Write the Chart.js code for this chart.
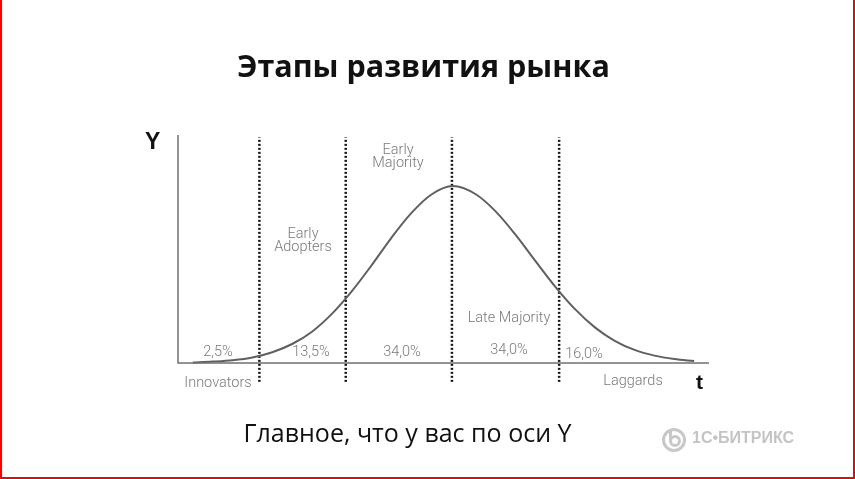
<!DOCTYPE html>
<html>
<head>
<meta charset="utf-8">
<script src="https://cdn.jsdelivr.net/npm/chart.js@4.4.1/dist/chart.umd.min.js"></script>
<style>
    html, body { margin: 0; padding: 0; background: #fff; }
    #slide {
        position: relative;
        width: 855px;
        height: 479px;
        box-sizing: border-box;
        border-left: 2px solid #ff0000;
        border-right: 2px solid #ff0000;
        border-bottom: 2px solid #ff0000;
        overflow: hidden;
        font-family: 'Open Sans', sans-serif;
    }
    #curve { position: absolute; left: -2px; top: 0; }
    .txt { position: absolute; white-space: nowrap; }
    .title { left: 0; width: 843px; top: 44px; text-align: center; font-weight: 700; font-size: 30.5px; color: #111; }
    .caption { left: 0; width: 811px; top: 415px; text-align: center; font-size: 25px; color: #111; }
    .axisName { font-family: 'Liberation Sans', Arial, sans-serif; font-weight: 700; color: #111; }
    .lbl { font-family: Roboto, 'Liberation Sans', sans-serif; font-weight: 300; font-size: 14.5px; color: #7a7a7a; line-height: 13px; text-align: center; transform: translateX(-50%); }
    .logo { left: 660px; top: 428px; height: 24px; color: #c4c4c4; }
    .logo .ring { position: absolute; left: 0; top: 0; width: 18px; height: 18px; border: 3px solid #c8c8c8; border-radius: 50%; }
    .logo .core { position: absolute; left: 7px; top: 7px; width: 6px; height: 6px; border: 3px solid #c8c8c8; border-radius: 50%; }
    .logo .stem { position: absolute; left: 7px; top: 2px; width: 3px; height: 10px; background: #c8c8c8; }
    .logo .word { position: absolute; left: 30px; top: 1px; font-family: 'Liberation Sans', Arial, sans-serif; font-weight: 700; font-size: 16px; }
</style>
</head>
<body>
<div id="slide">
    <canvas id="curve" width="855" height="479"></canvas>

    <div class="txt title">Этапы развития рынка</div>
    <div class="txt caption">Главное, что у вас по оси Y</div>

    <div class="txt axisName" style="left:143px; top:128px; font-size:23px;">Y</div>
    <div class="txt axisName" style="left:694px; top:370px; font-size:21px;">t</div>

    <div class="txt lbl" style="left:396px; top:143px;">Early<br>Majority</div>
    <div class="txt lbl" style="left:301px; top:227px;">Early<br>Adopters</div>
    <div class="txt lbl" style="left:507px; top:311px;">Late Majority</div>

    <div class="txt lbl" style="left:216px; top:345px;">2,5%</div>
    <div class="txt lbl" style="left:309px; top:345px;">13,5%</div>
    <div class="txt lbl" style="left:400px; top:345px;">34,0%</div>
    <div class="txt lbl" style="left:507px; top:343px;">34,0%</div>
    <div class="txt lbl" style="left:582px; top:347px;">16,0%</div>

    <div class="txt lbl" style="left:216px; top:376px;">Innovators</div>
    <div class="txt lbl" style="left:631px; top:374px;">Laggards</div>

    <div class="txt logo">
        <div class="ring"></div>
        <div class="core"></div>
        <div class="stem"></div>
        <div class="word">1С•БИТРИКС</div>
    </div>
</div>

<script>
// time axis (t) and curve height
const tValues = [3, 7, 11, 15, 19, 23, 27, 31, 35, 39, 43, 47, 51, 55.4, 60, 64, 68, 72, 76, 80, 84, 88, 92, 96, 100, 104];
const adoption = [0.2, 0.6, 1.2, 2.4, 4.7, 8.3, 13.7, 21.5, 31.4, 42.8, 54.9, 65.7, 73.8, 77.6, 74.0, 66.5, 56.3, 44.8, 33.5, 23.6, 15.6, 9.7, 5.7, 3.2, 1.7, 0.8];

// dotted stage borders
const dividers = [16.4, 33.8, 55.2, 76.8];
const dividerSpan = [-8.3, 99];

// the two axes as one polyline
const axisX = [0, 0, 107];
const axisY = [100, 0, 0];

const toPoints = (xs, ys) => xs.map((x, i) => ({ x: x, y: ys[i] }));

const datasets = [
    {
        data: toPoints(axisX, axisY),
        borderColor: '#707070',
        borderWidth: 1.5,
        tension: 0
    },
    {
        data: toPoints(tValues, adoption),
        borderColor: '#5f5f5f',
        borderWidth: 2,
        tension: 0.4,
        cubicInterpolationMode: 'monotone'
    }
];

dividers.forEach(x => {
    datasets.push({
        data: toPoints([x, x], dividerSpan),
        borderColor: '#151515',
        borderWidth: 2.5,
        borderDash: [2, 2],
        tension: 0
    });
});

new Chart(document.getElementById('curve'), {
    type: 'scatter',
    data: {
        datasets: datasets.map(ds => ({
            showLine: true,
            pointRadius: 0,
            pointHoverRadius: 0,
            clip: false,
            ...ds
        }))
    },
    options: {
        responsive: false,
        animation: false,
        layout: { padding: { left: 178, right: 146, top: 135, bottom: 91 } },
        plugins: { legend: { display: false }, tooltip: { enabled: false } },
        scales: {
            x: { type: 'linear', min: 0, max: 107, display: false },
            y: { type: 'linear', min: -11, max: 100, display: false }
        }
    }
});
</script>
</body>
</html>
